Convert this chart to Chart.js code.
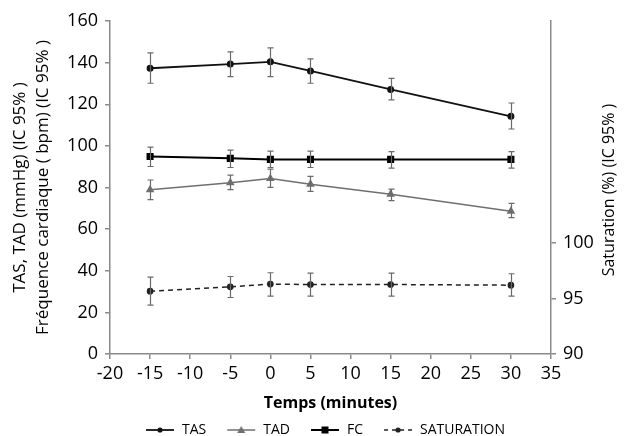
<!DOCTYPE html>
<html>
<head>
<meta charset="utf-8">
<script src="https://cdn.jsdelivr.net/npm/chart.js@4"></script>
<style>
  html, body { margin: 0; padding: 0; background: #fff; }
  #wrap { width: 626px; height: 436px; }
</style>
</head>
<body>
<div id="wrap"><canvas id="my-chart" width="626" height="436"></canvas></div>
<script>
const times = [-15, -5, 0, 5, 15, 30];

const tasMean = [137.3, 139.3, 140.4, 136.0, 127.1, 114.2];
const tasLow = [130.1, 133.3, 133.3, 130.1, 122.1, 108.1];
const tasHigh = [144.7, 145.2, 147.1, 141.8, 132.4, 120.6];

const tadMean = [78.9, 82.3, 84.3, 81.6, 76.8, 68.6];
const tadLow = [74.2, 79.0, 80.1, 78.1, 73.7, 65.5];
const tadHigh = [83.6, 85.9, 88.8, 85.3, 79.2, 72.4];

const fcMean = [94.9, 94.0, 93.5, 93.5, 93.5, 93.5];
const fcLow = [90.1, 89.6, 89.6, 89.6, 89.3, 89.3];
const fcHigh = [99.4, 98.0, 97.5, 97.5, 97.2, 97.2];

const satMean = [95.66, 96.05, 96.3, 96.26, 96.26, 96.2];
const satLow = [94.4, 95.09, 95.21, 95.21, 95.21, 95.21];
const satHigh = [96.93, 96.98, 97.32, 97.29, 97.29, 97.23];

const xTicks = [-20, -15, -10, -5, 0, 5, 10, 15, 20, 25, 30, 35];
const leftTicks = [0, 20, 40, 60, 80, 100, 120, 140, 160];
const rightTicks = [90, 95, 100];

const FONT = "'Open Sans', sans-serif";
const AXIS_GREY = "#8a8a8a";

function points(means, lows, highs) {
  return times.map((t, i) => ({ x: t, y: means[i], lo: lows[i], hi: highs[i] }));
}

// legend icon: blank gap on the left, then line + marker
function legendIcon(color, style, dashed, width) {
  const c = document.createElement("canvas");
  c.width = 48;
  c.height = 12;
  const g = c.getContext("2d");
  g.strokeStyle = color;
  g.fillStyle = color;
  g.lineWidth = width;
  if (dashed) g.setLineDash([4, 4]);
  g.beginPath();
  g.moveTo(19, 6);
  g.lineTo(47, 6);
  g.stroke();
  g.setLineDash([]);
  g.beginPath();
  if (style === "rect") {
    g.fillRect(29.5, 2.5, 7, 7);
  } else if (style === "triangle") {
    g.moveTo(33, 2);
    g.lineTo(37, 9);
    g.lineTo(29, 9);
    g.closePath();
    g.fill();
  } else {
    g.arc(33, 6, 2.6, 0, Math.PI * 2);
    g.fill();
  }
  return c;
}

const errorBars = {
  id: "errorBars",
  afterDatasetsDraw(chart) {
    const ctx = chart.ctx;
    const xs = chart.scales.x;
    ctx.save();
    ctx.strokeStyle = "#6a6a6a";
    ctx.lineWidth = 1.2;
    chart.data.datasets.forEach((ds) => {
      const ys = chart.scales[ds.yAxisID];
      ds.data.forEach((p) => {
        const px = Math.round(xs.getPixelForValue(p.x)) + 0.5;
        const top = ys.getPixelForValue(p.hi);
        const bot = ys.getPixelForValue(p.lo);
        ctx.beginPath();
        ctx.moveTo(px, top);
        ctx.lineTo(px, bot);
        ctx.moveTo(px - 3, top);
        ctx.lineTo(px + 3, top);
        ctx.moveTo(px - 3, bot);
        ctx.lineTo(px + 3, bot);
        ctx.stroke();
      });
    });
    ctx.restore();
  },
  afterDraw(chart) {
    // right axis title reads bottom to top
    const ctx = chart.ctx;
    ctx.save();
    ctx.translate(609, 190);
    ctx.rotate(-Math.PI / 2);
    ctx.font = "16px " + FONT;
    ctx.fillStyle = "#000";
    ctx.textAlign = "center";
    ctx.textBaseline = "middle";
    ctx.fillText("Saturation (%) (IC 95% )", 0, 0);
    ctx.restore();
  },
};

const ctx = document.getElementById("my-chart").getContext("2d");
const chart = new Chart(ctx, {
  type: "line",
  data: {
    datasets: [
      {
        label: "TAS",
        data: points(tasMean, tasLow, tasHigh),
        yAxisID: "y",
        borderColor: "#111",
        backgroundColor: "#111",
        borderWidth: 1.8,
        pointStyle: "circle",
        pointRadius: 2.6,
        icon: legendIcon("#111", "circle", false, 1.8),
      },
      {
        label: "TAD",
        data: points(tadMean, tadLow, tadHigh),
        yAxisID: "y",
        borderColor: "#6f6f6f",
        backgroundColor: "#6f6f6f",
        borderWidth: 1.5,
        pointStyle: "triangle",
        pointRadius: 3.5,
        icon: legendIcon("#6f6f6f", "triangle", false, 1.5),
      },
      {
        label: "FC",
        data: points(fcMean, fcLow, fcHigh),
        yAxisID: "y",
        borderColor: "#000",
        backgroundColor: "#000",
        borderWidth: 2,
        pointStyle: "rect",
        pointRadius: 3.6,
        icon: legendIcon("#000", "rect", false, 2),
      },
      {
        label: "SATURATION",
        data: points(satMean, satLow, satHigh),
        yAxisID: "y1",
        borderColor: "#222",
        backgroundColor: "#222",
        borderWidth: 1.5,
        borderDash: [5, 4],
        pointStyle: "circle",
        pointRadius: 2.6,
        icon: legendIcon("#222", "circle", true, 1.5),
      },
    ],
  },
  options: {
    responsive: false,
    animation: false,
    layout: { padding: { top: 21, right: 0, left: 6, bottom: -11 } },
    plugins: {
      tooltip: { enabled: false },
      legend: {
        position: "bottom",
        labels: {
          usePointStyle: true,
          pointStyleWidth: 48,
          padding: 2,
          color: "#000",
          font: { family: FONT, size: 14 },
          generateLabels(chart) {
            return chart.data.datasets.map((ds, i) => ({
              text: ds.label,
              pointStyle: ds.icon,
              datasetIndex: i,
              fontColor: "#000",
              lineWidth: 0,
              hidden: false,
            }));
          },
        },
      },
    },
    scales: {
      x: {
        type: "linear",
        min: -20,
        max: 35,
        afterBuildTicks(scale) {
          scale.ticks = xTicks.map((v) => ({ value: v }));
        },
        afterFit(scale) {
          scale.height = 67;
        },
        border: { color: AXIS_GREY, width: 1.5 },
        grid: { drawOnChartArea: false, drawTicks: true, tickLength: 5, color: AXIS_GREY, lineWidth: 1.5 },
        ticks: { color: "#000", padding: 4, font: { family: FONT, size: 18 }, maxRotation: 0 },
        title: {
          display: true,
          text: "Temps (minutes)",
          color: "#000",
          font: { family: FONT, size: 16, weight: "bold" },
          padding: { top: 0, bottom: 8 },
        },
      },
      y: {
        position: "left",
        min: 0,
        max: 160,
        afterBuildTicks(scale) {
          scale.ticks = leftTicks.map((v) => ({ value: v }));
        },
        afterFit(scale) {
          scale.width = 104;
        },
        border: { color: AXIS_GREY, width: 1.5 },
        grid: { drawOnChartArea: false, drawTicks: true, tickLength: 5, color: AXIS_GREY, lineWidth: 1.5 },
        ticks: { color: "#000", padding: 7, font: { family: FONT, size: 18 } },
        title: {
          display: true,
          text: ["TAS, TAD (mmHg) (IC 95% )", "Fréquence cardiaque ( bpm) (IC 95% )"],
          color: "#000",
          font: { family: FONT, size: 17, lineHeight: 1.35 },
          padding: { top: 2.5, bottom: 0 },
        },
      },
      y1: {
        position: "right",
        min: 90,
        max: 120,
        afterBuildTicks(scale) {
          scale.ticks = rightTicks.map((v) => ({ value: v }));
        },
        afterFit(scale) {
          scale.width = 75;
        },
        border: { color: AXIS_GREY, width: 1.5 },
        grid: { drawOnChartArea: false, drawTicks: true, tickLength: 5, color: AXIS_GREY, lineWidth: 1.5 },
        ticks: { color: "#000", padding: 7, font: { family: FONT, size: 18 } },
      },
    },
  },
  plugins: [errorBars],
});
</script>
</body>
</html>
